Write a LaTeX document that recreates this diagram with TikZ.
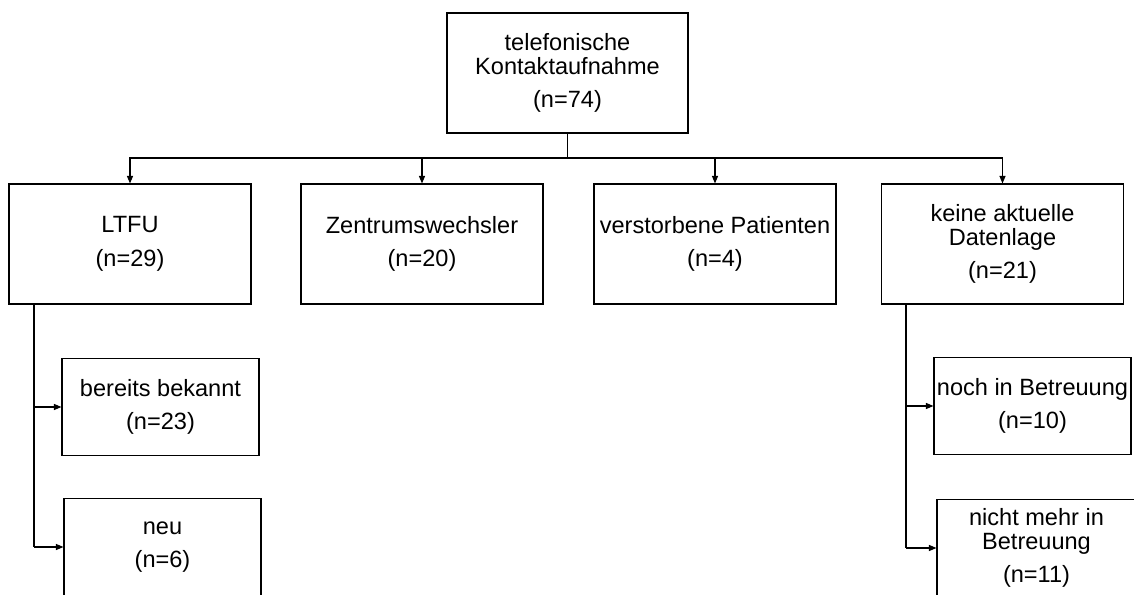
\documentclass[tikz,border=0pt]{standalone}
\usepackage{fontspec}
\setmainfont{Liberation Sans}
\usetikzlibrary{arrows.meta}

\begin{document}
\begin{tikzpicture}[>={Triangle[length=1.5mm,width=1.2mm]},line width=0.6pt,
  font=\fontsize{13.4}{13.6}\selectfont,
  box/.style={draw,align=center,inner sep=0pt,minimum width=4.84cm,minimum height=2.4cm},
  subbox/.style={box,minimum width=3.94cm,minimum height=1.94cm}]
\clip (0,0) rectangle (22.68,11.88);
% Kontakt
\node[box,minimum width=4.82cm] (kontakt) at (11.35,10.42) {telefonische\\Kontaktaufnahme\\[5.6pt](n=74)};
% zweite Ebene
\node[box] (ltfu) at (2.6,7.0) {LTFU\\[5.6pt](n=29)};
\node[box] (zentrum) at (8.44,7.0) {Zentrumswechsler\\[5.6pt](n=20)};
\node[box] (verstorben) at (14.3,7.0) {verstorbene Patienten\\[5.6pt](n=4)};
\node[box] (keine) at (20.05,7.0) {keine aktuelle\\Datenlage\\[5.6pt](n=21)};
% dritte Ebene
\node[subbox] (bekannt) at (3.21,3.74) {bereits bekannt\\[5.6pt](n=23)};
\node[subbox] (neu) at (3.25,0.94) {neu\\[5.6pt](n=6)};
\node[subbox] (betreut) at (20.65,3.76) {noch in Betreuung\\[5.6pt](n=10)};
\node[subbox,minimum width=3.98cm] (nichtbetreut) at (20.73,0.92) {nicht mehr in\\Betreuung\\[5.6pt](n=11)};
% Verbindungen
\coordinate (split) at (11.35,8.72);
\draw[line width=1pt] (kontakt.south) -- (split);
\foreach \n in {ltfu,zentrum,verstorben,keine}
  \draw[->] (split) -| (\n.north);
\coordinate (lstem) at (0.68,0);
\coordinate (rstem) at (18.12,0);
\draw (ltfu.south -| lstem) -- (lstem |- neu.west);
\foreach \n in {bekannt,neu}
  \draw[->] (lstem |- \n.west) -- (\n.west);
\draw (keine.south -| rstem) -- (rstem |- nichtbetreut.west);
\foreach \n in {betreut,nichtbetreut}
  \draw[->] (rstem |- \n.west) -- (\n.west);
\end{tikzpicture}
\end{document}
